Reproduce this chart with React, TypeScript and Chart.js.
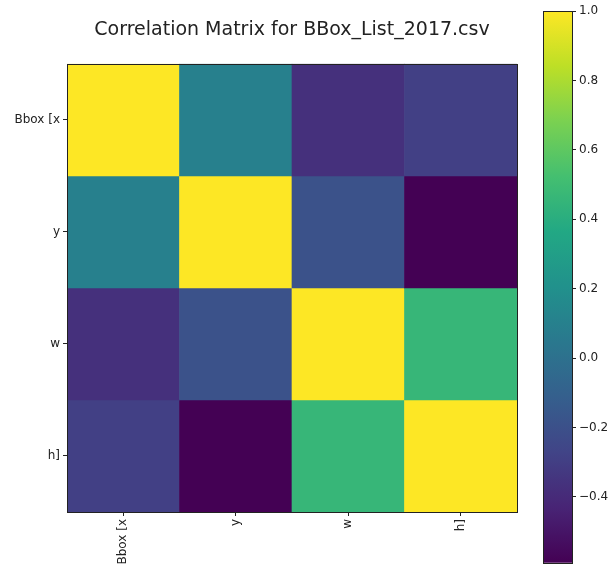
import { useEffect, useRef } from "react";
import { Chart, registerables } from "chart.js";

Chart.register(...registerables);

// Variables of the bounding-box table and their pairwise correlations
const variables = ["Bbox [x", "y", "w", "h]"];
const corrBboxX = [1.0, 0.1, -0.37, -0.29];
const corrY = [0.1, 1.0, -0.19, -0.59];
const corrW = [-0.37, -0.19, 1.0, 0.46];
const corrH = [-0.29, -0.59, 0.46, 1.0];
const colorbarTicks = [-0.4, -0.2, 0.0, 0.2, 0.4, 0.6, 0.8, 1.0];

const rows = [corrBboxX, corrY, corrW, corrH];
const allValues = rows.flat();
const vmin = Math.min(...allValues);
const vmax = Math.max(...allValues);

// viridis colormap sampled at 0, 0.1, ..., 1
const VIRIDIS = [
  "#440154", "#482475", "#414487", "#355f8d", "#2a788e", "#21918c",
  "#22a884", "#44bf70", "#7ad151", "#bddf26", "#fde725",
];

function hexToRgb(h: string) {
  return [parseInt(h.slice(1, 3), 16), parseInt(h.slice(3, 5), 16), parseInt(h.slice(5, 7), 16)];
}

function viridis(t: number) {
  const c = Math.max(0, Math.min(1, t)) * (VIRIDIS.length - 1);
  const i = Math.min(Math.floor(c), VIRIDIS.length - 2);
  const f = c - i;
  const a = hexToRgb(VIRIDIS[i]);
  const b = hexToRgb(VIRIDIS[i + 1]);
  const m = a.map((v, k) => Math.round(v + (b[k] - v) * f));
  return `rgb(${m[0]},${m[1]},${m[2]})`;
}

const FONT = "DejaVu Sans";
const INK = "#222222";
const TICK_SIZE = 12;

const framePlugin = {
  id: "frame",
  afterDatasetsDraw(chart: any) {
    const { ctx, chartArea: a } = chart;
    ctx.save();
    ctx.strokeStyle = INK;
    ctx.lineWidth = 1;
    ctx.strokeRect(Math.round(a.left) + 0.5, Math.round(a.top) + 0.5, Math.round(a.right - a.left), Math.round(a.bottom - a.top));
    ctx.restore();
  },
};

function fmt(v: number) {
  const s = Math.abs(v).toFixed(1);
  return v < -1e-9 ? "\u2212" + s : s;
}

export default function App() {
  const mainRef = useRef<HTMLCanvasElement>(null);
  const barRef = useRef<HTMLCanvasElement>(null);

  useEffect(() => {
    const heat = new Chart(mainRef.current!, {
      type: "bar",
      data: {
        labels: variables,
        datasets: rows.map((row, r) => ({
          label: variables[r],
          data: row.map(() => [r - 0.5, r + 0.5]),
          backgroundColor: row.map((v) => viridis((v - vmin) / (vmax - vmin))),
          borderWidth: 0,
          barPercentage: 1,
          categoryPercentage: 1,
          grouped: false,
        })) as any,
      },
      options: {
        responsive: false,
        animation: false,
        layout: { padding: { left: 0, right: 67, top: 0, bottom: 0 } },
        plugins: {
          legend: { display: false },
          tooltip: { enabled: false },
          title: {
            display: true,
            fullSize: false,
            text: "Correlation Matrix for BBox_List_2017.csv",
            color: INK,
            font: { family: FONT, size: 19, weight: "normal" },
            padding: { top: 19, bottom: 22 },
          },
        },
        scales: {
          x: {
            type: "category",
            offset: true,
            border: { display: false },
            grid: { offset: false, drawOnChartArea: false, drawTicks: true, tickLength: 4, color: INK },
            ticks: { minRotation: 90, maxRotation: 90, color: INK, font: { family: FONT, size: TICK_SIZE }, padding: 3 },
            afterFit: (s: any) => {
              s.height = 61;
            },
          },
          y: {
            type: "linear",
            min: -0.5,
            max: 3.5,
            reverse: true,
            border: { display: false },
            grid: { drawOnChartArea: false, drawTicks: true, tickLength: 4, color: INK },
            afterBuildTicks: (s: any) => {
              s.ticks = variables.map((_, i) => ({ value: i }));
            },
            ticks: {
              color: INK,
              font: { family: FONT, size: TICK_SIZE },
              padding: 3,
              callback: (v: any) => variables[Number(v)] ?? "",
            },
            afterFit: (s: any) => {
              s.width = 67;
            },
          },
        },
      } as any,
      plugins: [framePlugin],
    });

    const bar = new Chart(barRef.current!, {
      type: "bar",
      data: {
        labels: [""],
        datasets: [
          {
            data: [[vmin, vmax]],
            borderWidth: 0,
            barPercentage: 1,
            categoryPercentage: 1,
            backgroundColor: (ctx: any) => {
              const a = ctx.chart.chartArea;
              if (!a) return VIRIDIS[5];
              const g = ctx.chart.ctx.createLinearGradient(0, a.bottom, 0, a.top);
              VIRIDIS.forEach((c, i) => g.addColorStop(i / (VIRIDIS.length - 1), c));
              return g;
            },
          },
        ] as any,
      },
      options: {
        responsive: false,
        animation: false,
        layout: { padding: { left: 23, right: 0, top: 11, bottom: 10 } },
        plugins: { legend: { display: false }, tooltip: { enabled: false } },
        scales: {
          x: { display: false },
          y: {
            position: "right",
            min: vmin,
            max: vmax,
            border: { display: false },
            grid: { drawOnChartArea: false, drawTicks: true, tickLength: 4, color: INK },
            afterBuildTicks: (s: any) => {
              s.ticks = colorbarTicks.map((v) => ({ value: v }));
            },
            ticks: {
              color: INK,
              font: { family: FONT, size: TICK_SIZE },
              padding: 3,
              callback: (v: any) => fmt(Number(v)),
            },
            afterFit: (s: any) => {
              s.width = 44;
            },
          },
        },
      } as any,
      plugins: [framePlugin],
    });

    return () => {
      heat.destroy();
      bar.destroy();
    };
  }, []);

  return (
    <div style={{ position: "fixed", left: 0, top: 0, width: 616, height: 573, background: "#fff" }}>
      <canvas ref={mainRef} width={584} height={573} style={{ position: "absolute", left: 0, top: 0 }} />
      <canvas ref={barRef} width={96} height={573} style={{ position: "absolute", left: 520, top: 0 }} />
    </div>
  );
}
